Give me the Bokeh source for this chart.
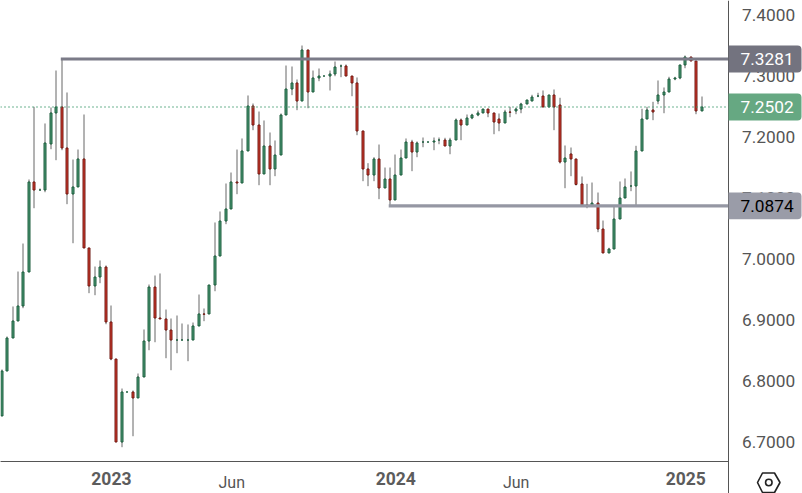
from bokeh.embed import file_html
from bokeh.resources import INLINE
from bokeh.plotting import figure
from bokeh.models import (ColumnDataSource, FixedTicker, NumeralTickFormatter, BoxAnnotation,
                          Label, Range1d, LinearAxis, CustomJSTransform)
from bokeh.transform import transform

opens = [6.7429,6.8166,6.8707,6.8986,6.9232,6.9789,7.1265,7.1133,7.1133,7.1888,7.2396,7.2494,7.1822,7.1068,7.1183,7.1642,
7.0183,6.9560,6.9707,6.9871,6.8970,6.8363,6.7002,6.7822,6.7822,6.7724,
6.8068,6.8658,6.9543,6.9035,6.9019,6.8838,6.8674,6.8674,6.8674,6.8674,6.8904,6.9101,6.9101,6.9576,7.0051,7.0625,7.0822,
7.1265,7.1248,7.1773,7.2510,7.2199,7.1396,7.1855,7.1478,7.1707,
7.2363,7.2789,7.2888,7.2592,7.3429,7.2740,7.2970,7.3002,7.3002,7.3035,7.3166,7.3166,7.3002,7.2888,7.2101,7.1478,7.1379,
7.1642,7.1166,7.1314,7.0970,7.1379,7.1658,7.1920,7.1756,7.1920,
7.1920,7.1920,7.1953,7.1953,7.1855,7.1953,7.2281,7.2199,7.2314,7.2363,7.2396,7.2461,7.2396,7.2297,7.2232,7.2412,7.2429,
7.2461,7.2543,7.2592,7.2674,7.2674,7.2494,7.2691,7.2527,7.1592,
7.1724,7.1642,7.1232,7.0888,7.0871,7.0920,7.0494,7.0101,7.0166,7.0658,7.1002,7.1199,7.1199,7.1773,7.2297,7.2445,7.2592,
7.2691,7.2740,7.2953,7.2970,7.3183,7.3314,7.3248,7.2429]
highs = [6.8191,6.8732,6.9224,6.9797,7.0256,7.1306,7.2497,7.1158,7.2224,7.2486,7.3092,7.3268,7.2732,7.1633,7.1797,7.2371,
7.0183,6.9879,6.9978,6.9896,6.9240,6.8363,6.7879,6.7822,6.7847,6.8125,
6.8847,6.9584,6.9732,6.9765,6.9174,6.9027,6.9076,6.8945,6.8929,6.8961,6.9420,6.9191,6.9576,7.0601,7.0781,7.1240,7.1420,
7.1797,7.1978,7.2683,7.2551,7.2420,7.2273,7.2076,7.1945,7.2388,
7.3174,7.3158,7.2945,7.3502,7.3429,7.3092,7.3125,7.3002,7.3092,7.3240,7.3191,7.3191,7.3002,7.2978,7.2101,7.1573,7.1671,
7.1879,7.1502,7.1502,7.1715,7.1797,7.1978,7.1956,7.1929,7.1994,
7.1920,7.1994,7.1994,7.1989,7.1989,7.2306,7.2306,7.2371,7.2383,7.2437,7.2461,7.2461,7.2396,7.2388,7.2448,7.2497,7.2486,
7.2563,7.2609,7.2694,7.2727,7.2765,7.2691,7.2781,7.2645,7.1863,
7.1830,7.1642,7.1355,7.1235,7.1256,7.1092,7.0633,7.0186,7.0863,7.1273,7.1322,7.1437,7.1858,7.2465,7.2497,7.2579,7.2929,
7.2814,7.2989,7.2989,7.3183,7.3338,7.3314,7.3248,7.2666]
lows = [6.7429,6.8166,6.8707,6.8986,6.9196,6.9789,7.0835,7.1133,7.1097,7.1802,7.1622,7.1786,7.0901,7.0261,7.1183,7.0183,
6.9442,6.9409,6.9606,6.8933,6.8343,6.7002,6.6917,6.7822,6.7097,6.7724,
6.8068,6.8507,6.8638,6.9019,6.8376,6.8179,6.8458,6.8674,6.8327,6.8674,6.8904,6.8983,6.9101,6.9474,7.0051,7.0573,7.0822,
7.1065,7.1248,7.1773,7.2114,7.1212,7.1396,7.1212,7.1360,7.1707,
7.2363,7.2688,7.2442,7.2592,7.2474,7.2740,7.2917,7.3002,7.2765,7.2999,7.2983,7.3002,7.2671,7.2032,7.1278,7.1196,7.1278,
7.0983,7.1166,7.0884,7.0970,7.1379,7.1658,7.1442,7.1671,7.1835,
7.1920,7.1786,7.1884,7.1855,7.1720,7.1953,7.1950,7.2199,7.2294,7.2343,7.2396,7.2327,7.2048,7.2097,7.2232,7.2327,7.2376,
7.2392,7.2543,7.2592,7.2655,7.2494,7.2494,7.2114,7.1568,7.1163,
7.1360,7.1207,7.0888,7.0835,7.0871,7.0442,7.0101,7.0101,7.0166,7.0658,7.1002,7.1114,7.0868,7.1773,7.2297,7.2278,7.2540,
7.2392,7.2740,7.2933,7.2950,7.3130,7.3248,7.2376,7.2429]
closes = [6.8166,6.8707,6.8986,6.9232,6.9789,7.1265,7.1133,7.1133,7.1904,7.2396,7.2494,7.1822,7.1068,7.1183,7.1642,7.0183,
6.9560,6.9707,6.9871,6.8970,6.8363,6.7002,6.7822,6.7822,6.7724,6.8068,
6.8658,6.9543,6.9035,6.9019,6.8838,6.8674,6.8674,6.8674,6.8674,6.8904,6.9101,6.9097,6.9576,7.0051,7.0625,7.0822,7.1265,
7.1248,7.1773,7.2510,7.2199,7.1396,7.1855,7.1478,7.1707,7.2363,
7.2789,7.2888,7.2592,7.3429,7.2740,7.2970,7.3002,7.3002,7.3035,7.3150,7.3166,7.3002,7.2888,7.2101,7.1478,7.1379,7.1642,
7.1166,7.1314,7.0970,7.1379,7.1658,7.1920,7.1756,7.1904,7.1920,
7.1920,7.1937,7.1953,7.1855,7.1953,7.2281,7.2199,7.2314,7.2363,7.2396,7.2461,7.2396,7.2248,7.2232,7.2412,7.2408,7.2461,
7.2543,7.2609,7.2658,7.2674,7.2494,7.2691,7.2494,7.1592,7.1658,
7.1642,7.1224,7.0888,7.0871,7.0920,7.0494,7.0101,7.0166,7.0658,7.1002,7.1183,7.1199,7.1773,7.2297,7.2445,7.2412,7.2691,
7.2740,7.2953,7.2970,7.3183,7.3314,7.3248,7.2429,7.2494]

y_ticks = [6.7, 6.8, 6.9, 7.0, 7.1, 7.2, 7.3, 7.4]
year_bars = [20, 72, 125]
year_labels = ["2023", "2024", "2025"]
month_bars = [42, 94]
month_labels = ["Jun", "Jun"]
resistance_level = 7.3281
support_level = 7.0874
last_level = 7.2494
resistance_start_bar = 10.75
support_start_bar = 70.7
label_values = [7.3281, 7.2494, 7.0874]
label_texts = ["7.3281", "7.2502", "7.0874"]

PX_X = 5.47
PX_Y = 610.0
X0 = -1.5 / PX_X
Y_TOP = 7.4240
W, H = 802, 493
X_END = X0 + W / PX_X
Y_BOTTOM = Y_TOP - H / PX_Y
SCALE_BAR = X0 + 727.5 / PX_X     # where the price scale sits
TIME_LEVEL = Y_TOP - 460.5 / PX_Y # where the time scale sits
RIGHT_EDGE = X0 + 801 / PX_X

n = len(opens)
idx = list(range(n))
UP_FILL, UP_LINE = "#4f9c78", "#1c5c3c"
DN_FILL, DN_LINE = "#d93a2c", "#6f1a14"
up = [closes[i] >= opens[i] for i in idx]

# bars sit on whole pixels, as a trading chart's do
snap = CustomJSTransform(args=dict(x0=X0, k=PX_X), v_func="""
    return xs.map(v => x0 + (Math.floor(1.08 + 5.471 * v) + 0.5) / k)
""")

p = figure(width=W, height=H, output_backend="svg", toolbar_location=None,
           x_range=Range1d(X0, X_END), y_range=Range1d(Y_BOTTOM, Y_TOP),
           x_axis_type=None, y_axis_type=None,
           min_border=0, min_border_left=0, min_border_right=0,
           min_border_top=0, min_border_bottom=0, background_fill_color="white",
           border_fill_color="white", outline_line_color=None)
p.margin = (0, 0, 0, 0)
p.grid.visible = False

ax = LinearAxis(fixed_location=SCALE_BAR, ticker=FixedTicker(ticks=y_ticks),
                formatter=NumeralTickFormatter(format="0.0000"))
ax.major_tick_out = 0; ax.major_tick_in = 0; ax.minor_tick_out = 0; ax.minor_tick_in = 0
ax.axis_line_color = "#555555"
ax.major_label_standoff = 14
ax.major_label_text_font = "Roboto"
ax.major_label_text_font_size = "17.3px"
ax.major_label_text_color = "#555555"
p.add_layout(ax, "right")

bx = LinearAxis(fixed_location=TIME_LEVEL, ticker=FixedTicker(ticks=year_bars), bounds=(X0, SCALE_BAR))
bx.major_label_overrides = dict(zip(year_bars, year_labels))
bx.major_tick_out = 0; bx.major_tick_in = 0; bx.minor_tick_out = 0; bx.minor_tick_in = 0
bx.axis_line_color = "#555555"
bx.major_label_standoff = 11
bx.major_label_text_font = "Roboto"
bx.major_label_text_font_size = "17.5px"
bx.major_label_text_font_style = "bold"
bx.major_label_text_color = "#5c5c5c"
p.add_layout(bx, "below")

mx = LinearAxis(fixed_location=TIME_LEVEL, ticker=FixedTicker(ticks=month_bars), bounds=(X0, SCALE_BAR))
mx.major_label_overrides = dict(zip(month_bars, month_labels))
mx.major_tick_out = 0; mx.major_tick_in = 0; mx.minor_tick_out = 0; mx.minor_tick_in = 0
mx.axis_line_color = "#555555"
mx.major_label_standoff = 12
mx.major_label_text_font = "Roboto"
mx.major_label_text_font_size = "16px"
mx.major_label_text_color = "#555555"
p.add_layout(mx, "below")

src = ColumnDataSource(dict(x=idx, low=lows, high=highs,
                            top=[max(opens[i], closes[i]) for i in idx],
                            bottom=[min(opens[i], closes[i]) for i in idx],
                            fill=[UP_FILL if u else DN_FILL for u in up],
                            line=[UP_LINE if u else DN_LINE for u in up]))
sx = transform("x", snap)
p.segment(x0=sx, y0="low", x1=sx, y1="high", line_color="#666666", line_width=1, source=src)
p.vbar(x=sx, top="top", bottom="bottom", width=2 / PX_X, fill_color="fill", line_color="line", line_width=1, source=src)

p.segment([X0], [last_level], [SCALE_BAR - 2 / PX_X], [last_level], line_color="#3f9a6e", line_width=1.4, line_dash="1 3")
p.segment([resistance_start_bar], [resistance_level], [SCALE_BAR], [resistance_level], line_color="#7b7b88", line_width=3)
p.segment([support_start_bar], [support_level], [SCALE_BAR], [support_level], line_color="#9597a3", line_width=3.4)

half = 13.4 / PX_Y
for v, t, fc, tc in zip(label_values, label_texts, ["#73737f", "#66a882", "#9a9ca8"], ["white", "white", "black"]):
    p.add_layout(BoxAnnotation(left=SCALE_BAR + 0.5 / PX_X, right=RIGHT_EDGE,
                               top=v + half, bottom=v - half, fill_color=fc, fill_alpha=1,
                               line_alpha=0, border_radius=(0, 4, 4, 0), level="overlay"))
    p.add_layout(Label(x=SCALE_BAR + 12.5 / PX_X, y=v, text=t, text_font="Roboto", text_font_size="17.3px",
                       text_color=tc, text_baseline="middle", text_align="left", level="overlay"))

# settings icon
icon_x = [757, 762, 774, 779.5, 774, 762]
icon_y = [482, 472.5, 472.5, 482, 492, 492]
p.patch([X0 + a / PX_X for a in icon_x], [Y_TOP - b / PX_Y for b in icon_y], fill_alpha=0, line_color="#222222", line_width=1.6)
p.scatter([X0 + 768.3 / PX_X], [Y_TOP - 482 / PX_Y], size=6.5, marker="circle", fill_alpha=0, line_color="#222222", line_width=1.6)

open("out.html", "w").write(file_html(p, INLINE))
